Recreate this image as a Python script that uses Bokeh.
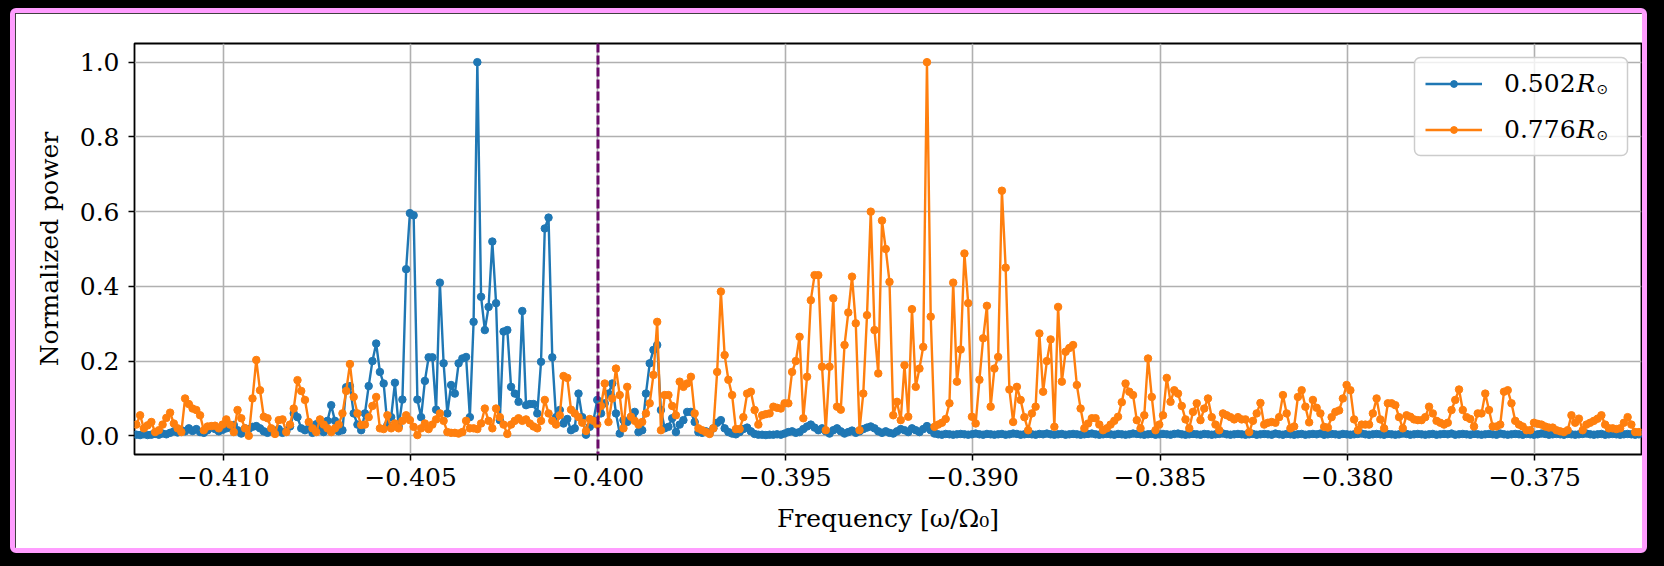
import numpy as np
from bokeh.plotting import figure
from bokeh.models import Range1d, FixedTicker, Span, Legend, LegendItem, Label, BoxAnnotation
from bokeh.layouts import column
from bokeh.embed import file_html
from bokeh.resources import INLINE

# ---------------- data ----------------
FREQ_START = -0.41232
FREQ_STEP = 1.0e-4
SERIES_LABELS = ["0.502", "0.776"]
MARKED_FREQ = -0.400

POWER_0502 = [
    0.003, 0.002, 0.004, 0.002, 0.003, 0.005, 0.003, 0.006, 0.004, 0.008,
    0.012, 0.009, 0.015, 0.012, 0.020, 0.013, 0.018, 0.010, 0.008, 0.015,
    0.022, 0.018, 0.012, 0.016, 0.020, 0.022, 0.029, 0.015, 0.006, 0.020,
    0.018, 0.024, 0.026, 0.020, 0.012, 0.008, 0.015, 0.010, 0.018, 0.008,
    0.012, 0.025, 0.060, 0.050, 0.020, 0.015, 0.020, 0.008, 0.031, 0.020,
    0.010, 0.040, 0.082, 0.040, 0.012, 0.015, 0.130, 0.133, 0.060, 0.030,
    0.015, 0.060, 0.133, 0.200, 0.247, 0.171, 0.140, 0.029, 0.050, 0.142,
    0.025, 0.097, 0.446, 0.596, 0.590, 0.097, 0.050, 0.147, 0.210, 0.210,
    0.070, 0.410, 0.194, 0.060, 0.136, 0.113, 0.194, 0.207, 0.211, 0.050,
    0.305, 1.000, 0.372, 0.283, 0.345, 0.520, 0.355, 0.042, 0.279, 0.283,
    0.131, 0.113, 0.091, 0.334, 0.082, 0.085, 0.085, 0.060, 0.198, 0.555,
    0.584, 0.210, 0.050, 0.069, 0.033, 0.045, 0.015, 0.020, 0.113, 0.050,
    0.003, 0.024, 0.042, 0.096, 0.060, 0.087, 0.113, 0.140, 0.060, 0.006,
    0.042, 0.037, 0.050, 0.064, 0.010, 0.015, 0.113, 0.194, 0.230, 0.243,
    0.069, 0.020, 0.024, 0.047, 0.010, 0.030, 0.042, 0.064, 0.064, 0.037,
    0.010, 0.008, 0.012, 0.008, 0.020, 0.035, 0.042, 0.020, 0.010, 0.006,
    0.004, 0.010, 0.018, 0.022, 0.012, 0.005, 0.003, 0.003, 0.002, 0.003,
    0.003, 0.004, 0.003, 0.006, 0.010, 0.012, 0.008, 0.010, 0.018, 0.025,
    0.030, 0.022, 0.015, 0.020, 0.012, 0.006, 0.015, 0.020, 0.012, 0.006,
    0.010, 0.014, 0.008, 0.012, 0.018, 0.022, 0.025, 0.020, 0.012, 0.008,
    0.012, 0.008, 0.006, 0.012, 0.018, 0.015, 0.010, 0.020, 0.015, 0.010,
    0.018, 0.026, 0.015, 0.006, 0.004, 0.003, 0.005, 0.004, 0.003, 0.004,
    0.005, 0.004, 0.003, 0.004, 0.006, 0.004, 0.003, 0.005, 0.004, 0.003,
    0.004, 0.005, 0.003, 0.004, 0.006, 0.005, 0.003, 0.004, 0.005, 0.004,
    0.003, 0.005, 0.004, 0.006, 0.004, 0.003, 0.004, 0.005, 0.003, 0.004,
    0.005, 0.004, 0.003, 0.004, 0.005, 0.006, 0.004, 0.003, 0.004, 0.005,
    0.004, 0.003, 0.005, 0.004, 0.003, 0.004, 0.006, 0.005, 0.004, 0.003,
    0.004, 0.005, 0.003, 0.004, 0.005, 0.004, 0.003, 0.005, 0.006, 0.004,
    0.003, 0.004, 0.005, 0.004, 0.003, 0.005, 0.004, 0.003, 0.004, 0.005,
    0.006, 0.004, 0.003, 0.004, 0.005, 0.004, 0.003, 0.004, 0.005, 0.003,
    0.004, 0.005, 0.004, 0.003, 0.006, 0.004, 0.003, 0.005, 0.004, 0.003,
    0.004, 0.005, 0.003, 0.004, 0.005, 0.004, 0.006, 0.003, 0.004, 0.005,
    0.004, 0.003, 0.005, 0.004, 0.003, 0.004, 0.005, 0.006, 0.004, 0.003,
    0.004, 0.005, 0.004, 0.003, 0.005, 0.004, 0.003, 0.004, 0.006, 0.005,
    0.003, 0.004, 0.005, 0.004, 0.003, 0.004, 0.005, 0.003, 0.004, 0.005,
    0.004, 0.006, 0.003, 0.004, 0.005, 0.004, 0.003, 0.005, 0.004, 0.003,
    0.004, 0.005, 0.004, 0.003, 0.006, 0.004, 0.003, 0.004, 0.005, 0.004,
    0.003, 0.005, 0.004, 0.003, 0.004, 0.006, 0.005, 0.003, 0.004, 0.005,
    0.004, 0.003, 0.005, 0.004, 0.003, 0.004, 0.005, 0.006, 0.004, 0.003,
    0.004, 0.005, 0.003, 0.004, 0.005, 0.004, 0.003, 0.004, 0.005, 0.004,
    0.003, 0.004,
]

POWER_0776 = [
    0.030, 0.055, 0.020, 0.028, 0.037, 0.010, 0.015, 0.030, 0.048, 0.062,
    0.033, 0.020, 0.010, 0.100, 0.085, 0.073, 0.069, 0.055, 0.015, 0.025,
    0.026, 0.027, 0.020, 0.030, 0.044, 0.030, 0.010, 0.069, 0.047, 0.020,
    0.000, 0.100, 0.203, 0.122, 0.051, 0.047, 0.020, 0.005, 0.042, 0.044,
    0.010, 0.030, 0.073, 0.149, 0.120, 0.096, 0.037, 0.020, 0.010, 0.044,
    0.030, 0.020, 0.010, 0.020, 0.030, 0.060, 0.120, 0.192, 0.104, 0.060,
    0.029, 0.030, 0.050, 0.080, 0.104, 0.020, 0.018, 0.055, 0.020, 0.033,
    0.020, 0.040, 0.055, 0.042, 0.024, 0.002, 0.020, 0.033, 0.018, 0.030,
    0.044, 0.060, 0.040, 0.010, 0.008, 0.008, 0.006, 0.010, 0.040, 0.020,
    0.020, 0.018, 0.033, 0.073, 0.040, 0.020, 0.073, 0.050, 0.030, 0.005,
    0.030, 0.040, 0.047, 0.040, 0.044, 0.033, 0.025, 0.020, 0.040, 0.096,
    0.060, 0.040, 0.030, 0.055, 0.160, 0.155, 0.070, 0.060, 0.050, 0.035,
    0.013, 0.045, 0.040, 0.030, 0.080, 0.140, 0.037, 0.100, 0.180, 0.109,
    0.020, 0.131, 0.051, 0.040, 0.030, 0.037, 0.060, 0.087, 0.163, 0.305,
    0.015, 0.109, 0.109, 0.080, 0.055, 0.145, 0.131, 0.140, 0.158, 0.060,
    0.020, 0.015, 0.010, 0.005, 0.020, 0.171, 0.386, 0.216, 0.150, 0.109,
    0.018, 0.018, 0.050, 0.113, 0.118, 0.069, 0.030, 0.055, 0.058, 0.060,
    0.078, 0.075, 0.073, 0.087, 0.087, 0.171, 0.200, 0.265, 0.047, 0.158,
    0.363, 0.430, 0.430, 0.185, 0.015, 0.185, 0.368, 0.078, 0.070, 0.243,
    0.330, 0.426, 0.301, 0.015, 0.113, 0.323, 0.600, 0.283, 0.167, 0.576,
    0.500, 0.412, 0.055, 0.091, 0.042, 0.189, 0.051, 0.339, 0.131, 0.180,
    0.238, 1.000, 0.319, 0.024, 0.030, 0.035, 0.045, 0.087, 0.410, 0.145,
    0.231, 0.488, 0.355, 0.051, 0.033, 0.150, 0.261, 0.348, 0.078, 0.180,
    0.211, 0.656, 0.450, 0.124, 0.037, 0.131, 0.096, 0.050, 0.015, 0.060,
    0.078, 0.274, 0.118, 0.200, 0.258, 0.024, 0.345, 0.145, 0.225, 0.235,
    0.243, 0.136, 0.073, 0.020, 0.033, 0.047, 0.047, 0.030, 0.015, 0.020,
    0.030, 0.040, 0.051, 0.090, 0.140, 0.118, 0.109, 0.042, 0.020, 0.055,
    0.207, 0.104, 0.015, 0.030, 0.055, 0.155, 0.091, 0.122, 0.113, 0.080,
    0.044, 0.020, 0.064, 0.087, 0.042, 0.073, 0.100, 0.050, 0.030, 0.015,
    0.060, 0.055, 0.050, 0.044, 0.050, 0.044, 0.044, 0.010, 0.040, 0.060,
    0.088, 0.030, 0.035, 0.037, 0.035, 0.050, 0.109, 0.060, 0.020, 0.025,
    0.104, 0.122, 0.078, 0.036, 0.096, 0.075, 0.060, 0.024, 0.022, 0.050,
    0.064, 0.068, 0.100, 0.136, 0.122, 0.044, 0.015, 0.030, 0.030, 0.030,
    0.060, 0.100, 0.044, 0.020, 0.087, 0.087, 0.082, 0.050, 0.020, 0.055,
    0.051, 0.044, 0.042, 0.042, 0.050, 0.078, 0.060, 0.040, 0.035, 0.030,
    0.035, 0.069, 0.096, 0.124, 0.069, 0.050, 0.045, 0.025, 0.060, 0.060,
    0.113, 0.069, 0.025, 0.025, 0.030, 0.118, 0.122, 0.087, 0.040, 0.030,
    0.025, 0.015, 0.015, 0.035, 0.032, 0.030, 0.025, 0.022, 0.022, 0.015,
    0.012, 0.010, 0.015, 0.055, 0.035, 0.046, 0.015, 0.030, 0.035, 0.040,
    0.046, 0.055, 0.030, 0.020, 0.020, 0.018, 0.020, 0.035, 0.050, 0.030,
    0.010, 0.010,
]

X_TICKS = [-0.410, -0.405, -0.400, -0.395, -0.390, -0.385, -0.380, -0.375]
X_TICK_LABELS = ["\u22120.410", "\u22120.405", "\u22120.400", "\u22120.395",
                 "\u22120.390", "\u22120.385", "\u22120.380", "\u22120.375"]
Y_TICKS = [0.0, 0.2, 0.4, 0.6, 0.8, 1.0]
Y_TICK_LABELS = ["0.0", "0.2", "0.4", "0.6", "0.8", "1.0"]

assert len(POWER_0502) == len(POWER_0776)
freq = FREQ_START + FREQ_STEP * np.arange(len(POWER_0502))

# ---------------- figure ----------------
FONT = "DejaVu Serif"
FS = "25px"
BLUE = "#1f77b4"
ORANGE = "#ff7f0e"

p = figure(width=1637, height=545,
           x_range=Range1d(-0.41237, -0.37215), y_range=Range1d(-0.05, 1.05),
           output_backend="svg", toolbar_location=None,
           min_border_left=119, min_border_right=11,
           min_border_top=30, min_border_bottom=104,
           background_fill_color="white", border_fill_color="white",
           outline_line_color="black", outline_line_width=1.8)

p.styles = {"border": "5px solid #ff9dff", "border-radius": "6px",
            "margin-left": "10px", "margin-top": "8px"}

bl = p.line(freq, POWER_0502, line_color=BLUE, line_width=2.4)
bs = p.scatter(freq, POWER_0502, size=7.5, fill_color=BLUE, line_color=BLUE)
ol = p.line(freq, POWER_0776, line_color=ORANGE, line_width=2.4)
os_ = p.scatter(freq, POWER_0776, size=7.5, fill_color=ORANGE, line_color=ORANGE)

p.add_layout(Span(location=MARKED_FREQ, dimension="height", line_color="#6a0a6a",
                  line_dash="9 3", line_width=3))

p.xaxis.ticker = FixedTicker(ticks=X_TICKS)
p.yaxis.ticker = FixedTicker(ticks=Y_TICKS)
p.xaxis.major_label_overrides = dict(zip(X_TICKS, X_TICK_LABELS))
p.yaxis.major_label_overrides = dict(zip(Y_TICKS, Y_TICK_LABELS))

for ax in (p.xaxis[0], p.yaxis[0]):
    ax.axis_line_color = None
    ax.major_tick_out = 6
    ax.major_tick_in = 0
    ax.minor_tick_out = 0
    ax.minor_tick_in = 0
    ax.major_tick_line_color = "black"
    ax.major_tick_line_width = 1.5
    ax.major_label_text_font = FONT
    ax.major_label_text_font_size = FS
    ax.major_label_text_color = "black"
    ax.axis_label_text_font = FONT
    ax.axis_label_text_font_size = FS
    ax.axis_label_text_font_style = "normal"
    ax.axis_label_text_color = "black"

p.xaxis.axis_label = "Frequency [\u03c9/\u03a9\u2080]"
p.yaxis.axis_label = "Normalized power"
p.xaxis.major_label_standoff = 7
p.yaxis.major_label_standoff = 9
p.xaxis.axis_label_standoff = 15
p.yaxis.axis_label_standoff = 13

for g in (p.xgrid[0], p.ygrid[0]):
    g.grid_line_color = "#b0b0b0"
    g.grid_line_width = 1.6

# legend frame (semi-transparent white box with light border, rounded corners)
p.add_layout(BoxAnnotation(left=1280, right=1493, top=397, bottom=299,
                           left_units="screen", right_units="screen",
                           top_units="screen", bottom_units="screen",
                           fill_color="white", fill_alpha=0.8,
                           line_color="#cccccc", line_width=1.5, line_alpha=1.0,
                           border_radius=6))

legend = Legend(items=[LegendItem(label=SERIES_LABELS[0], renderers=[bl, bs]),
                       LegendItem(label=SERIES_LABELS[1], renderers=[ol, os_])],
                location="top_right", margin=14, padding=11, spacing=16,
                glyph_width=57, glyph_height=17, label_height=30,
                label_width=112, label_standoff=22,
                label_text_font=FONT, label_text_font_size=FS,
                label_text_color="black",
                border_line_color="#cccccc", border_line_alpha=0.0,
                background_fill_alpha=0.0)
p.add_layout(legend)

# italic R and subscript sun symbol after the numeric part of each legend label
for yy in (371.1, 325.1):
    p.add_layout(Label(x=1442, y=yy, x_units="screen", y_units="screen", text="R",
                       text_font=FONT, text_font_style="italic", text_font_size=FS,
                       text_baseline="middle", text_color="black"))
    p.add_layout(Label(x=1462, y=yy - 6, x_units="screen", y_units="screen", text="\u2299",
                       text_font="DejaVu Sans", text_font_size="14px",
                       text_baseline="middle", text_color="black"))

layout = column(p, width=1664, height=566,
                styles={"background-color": "black"})

open("out.html", "w").write(file_html(layout, INLINE))
